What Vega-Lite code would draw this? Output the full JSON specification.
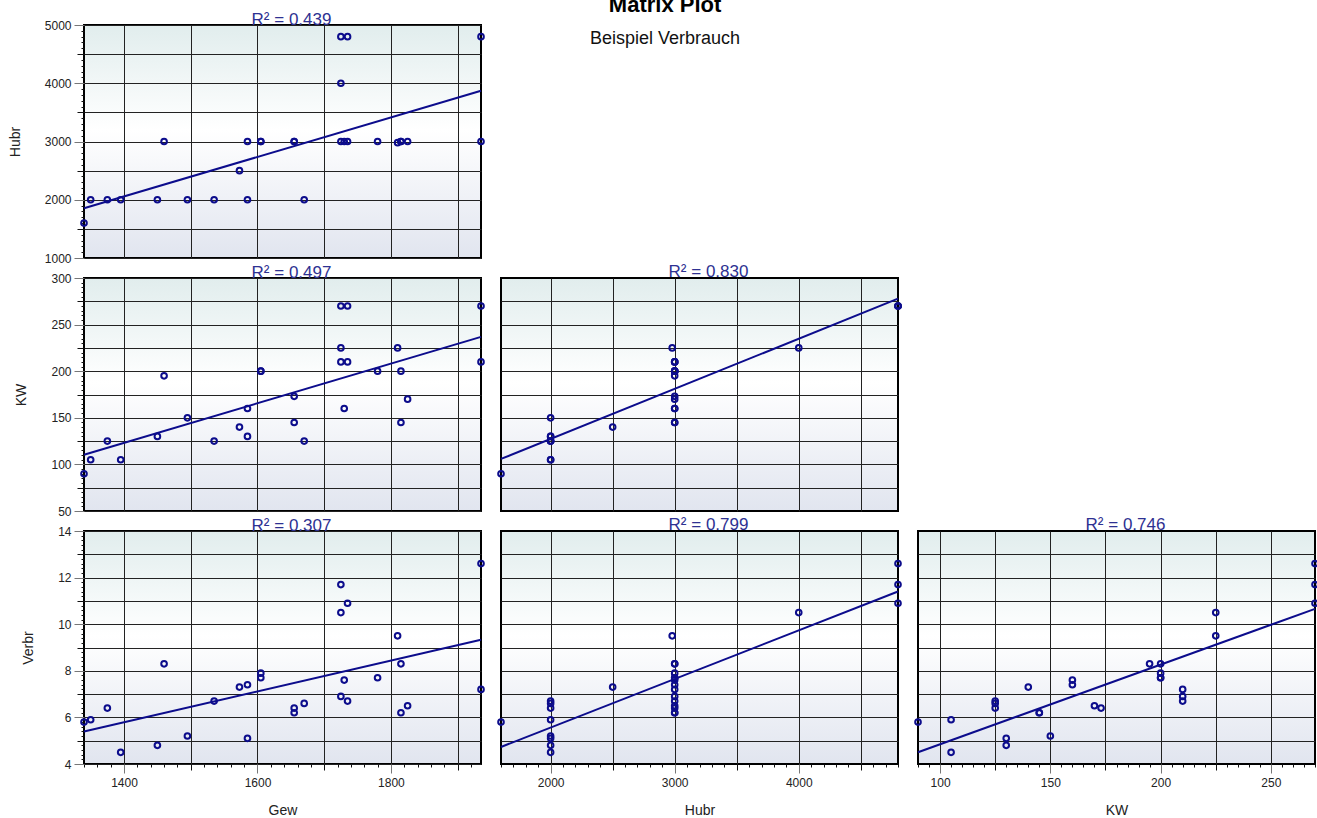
{
  "$schema": "https://vega.github.io/schema/vega-lite/v6.json",
  "background": "white",
  "padding": {"left": 7, "top": -6, "right": 0, "bottom": 0},
  "title": {"text": "Matrix Plot", "subtitle": "Beispiel Verbrauch", "anchor": "middle", "fontSize": 22, "fontWeight": "bold", "subtitleFontSize": 18, "subtitleColor": "#111", "color": "#000", "offset": -39, "font": "Liberation Sans", "subtitleFont": "Liberation Sans", "subtitlePadding": 13},
  "data": {"values": [
    {"Gew": 1340, "Hubr": 1600, "KW": 90, "Verbr": 5.8},
    {"Gew": 1350, "Hubr": 2000, "KW": 105, "Verbr": 5.9},
    {"Gew": 1375, "Hubr": 2000, "KW": 125, "Verbr": 6.4},
    {"Gew": 1395, "Hubr": 2000, "KW": 105, "Verbr": 4.5},
    {"Gew": 1450, "Hubr": 2000, "KW": 130, "Verbr": 4.8},
    {"Gew": 1460, "Hubr": 3000, "KW": 195, "Verbr": 8.3},
    {"Gew": 1495, "Hubr": 2000, "KW": 150, "Verbr": 5.2},
    {"Gew": 1535, "Hubr": 2000, "KW": 125, "Verbr": 6.7},
    {"Gew": 1573, "Hubr": 2500, "KW": 140, "Verbr": 7.3},
    {"Gew": 1585, "Hubr": 3000, "KW": 160, "Verbr": 7.4},
    {"Gew": 1585, "Hubr": 2000, "KW": 130, "Verbr": 5.1},
    {"Gew": 1605, "Hubr": 3000, "KW": 200, "Verbr": 7.9},
    {"Gew": 1605, "Hubr": 3000, "KW": 200, "Verbr": 7.7},
    {"Gew": 1655, "Hubr": 3000, "KW": 173, "Verbr": 6.4},
    {"Gew": 1655, "Hubr": 3000, "KW": 145, "Verbr": 6.2},
    {"Gew": 1670, "Hubr": 2000, "KW": 125, "Verbr": 6.6},
    {"Gew": 1725, "Hubr": 4800, "KW": 270, "Verbr": 11.7},
    {"Gew": 1725, "Hubr": 4000, "KW": 225, "Verbr": 10.5},
    {"Gew": 1725, "Hubr": 3000, "KW": 210, "Verbr": 6.9},
    {"Gew": 1730, "Hubr": 3000, "KW": 160, "Verbr": 7.6},
    {"Gew": 1735, "Hubr": 4800, "KW": 270, "Verbr": 10.9},
    {"Gew": 1735, "Hubr": 3000, "KW": 210, "Verbr": 6.7},
    {"Gew": 1780, "Hubr": 3000, "KW": 200, "Verbr": 7.7},
    {"Gew": 1810, "Hubr": 2980, "KW": 225, "Verbr": 9.5},
    {"Gew": 1815, "Hubr": 3000, "KW": 200, "Verbr": 8.3},
    {"Gew": 1815, "Hubr": 3000, "KW": 145, "Verbr": 6.2},
    {"Gew": 1825, "Hubr": 3000, "KW": 170, "Verbr": 6.5},
    {"Gew": 1935, "Hubr": 4800, "KW": 270, "Verbr": 12.6},
    {"Gew": 1935, "Hubr": 3000, "KW": 210, "Verbr": 7.2}
  ]},
  "config": {
    "font": "Liberation Sans",
    "view": {"stroke": "#000", "strokeWidth": 2, "fill": {"gradient": "linear", "x1": 0, "y1": 0, "x2": 0, "y2": 1, "stops": [{"offset": 0, "color": "#e1eded"}, {"offset": 0.45, "color": "#ffffff"}, {"offset": 1, "color": "#e1e5ef"}]}},
    "axis": {"domain": false, "gridColor": "#222", "gridWidth": 1, "labelFont": "Liberation Sans", "labelFontSize": 12, "labelColor": "#222", "titleFont": "Liberation Sans", "titleFontSize": 14, "titleFontWeight": "normal", "titleColor": "#222", "tickWidth": 1, "format": "d", "labelOverlap": false, "labelFlush": false, "tickCount": 200},
    "title": {"fontSize": 17, "fontWeight": "normal", "color": "#2e3192", "font": "Liberation Sans"}
  },
  "columns": 3,
  "spacing": 20,
  "bounds": "flush",
  "concat": [
    {
      "width": 397, "height": 233,
      "title": {"text": "R²  = 0.439", "frame": "group", "dx": 9, "offset": -10},
      "layer": [
        {"mark": {"type": "point", "filled": false, "color": "#0c0c8c", "strokeWidth": 2, "size": 32, "opacity": 1},
         "encoding": {
           "x": {"field": "Gew", "type": "quantitative", "scale": {"zero": false, "nice": false}, "axis": {"title": null, "tickCount": 200, "values": [1400,1500,1600,1700,1800,1900], "labels": false, "ticks": false, "grid": true}},
           "y": {"field": "Hubr", "type": "quantitative", "scale": {"domain": [1000, 5000], "nice": false}, "axis": {"title": "Hubr", "titlePadding": 22, "tickCount": 200, "values": [1000,1100,1200,1300,1400,1500,1600,1700,1800,1900,2000,2100,2200,2300,2400,2500,2600,2700,2800,2900,3000,3100,3200,3300,3400,3500,3600,3700,3800,3900,4000,4100,4200,4300,4400,4500,4600,4700,4800,4900,5000], "labelExpr": "datum.value % 1000 === 0 ? datum.label : ''", "labelPadding": 3, "tickSize": {"condition": [{"test": "datum.value % 1000 === 0", "value": 10}, {"test": "datum.value % 500 === 0", "value": 7}], "value": 3}, "tickColor": {"condition": {"test": "datum.value % 1000 === 0", "value": "#777"}, "value": "#111"}, "grid": true, "gridOpacity": {"condition": {"test": "datum.value % 500 === 0", "value": 1}, "value": 0}}}
         }},
        {"transform": [{"regression": "Hubr", "on": "Gew"}],
         "mark": {"type": "line", "color": "#0c0c8c", "strokeWidth": 2},
         "encoding": {"x": {"field": "Gew", "type": "quantitative"}, "y": {"field": "Hubr", "type": "quantitative"}}}
      ]
    },
    {"width": 397, "height": 233, "view": {"fill": null, "stroke": null}, "data": {"values": []}, "mark": "point", "encoding": {}},
    {"width": 397, "height": 233, "view": {"fill": null, "stroke": null}, "data": {"values": []}, "mark": "point", "encoding": {}},
    {
      "width": 397, "height": 233,
      "title": {"text": "R²  = 0.497", "frame": "group", "dx": 9, "offset": -10},
      "layer": [
        {"mark": {"type": "point", "filled": false, "color": "#0c0c8c", "strokeWidth": 2, "size": 32, "opacity": 1},
         "encoding": {
           "x": {"field": "Gew", "type": "quantitative", "scale": {"zero": false, "nice": false}, "axis": {"title": null, "tickCount": 200, "values": [1400,1500,1600,1700,1800,1900], "labels": false, "ticks": false, "grid": true}},
           "y": {"field": "KW", "type": "quantitative", "scale": {"domain": [50, 300], "nice": false}, "axis": {"title": "KW", "titlePadding": 22, "tickCount": 200, "values": [50,55,60,65,70,75,80,85,90,95,100,105,110,115,120,125,130,135,140,145,150,155,160,165,170,175,180,185,190,195,200,205,210,215,220,225,230,235,240,245,250,255,260,265,270,275,280,285,290,295,300], "labelExpr": "datum.value % 50 === 0 ? datum.label : ''", "labelPadding": 3, "tickSize": {"condition": [{"test": "datum.value % 50 === 0", "value": 10}, {"test": "datum.value % 25 === 0", "value": 7}], "value": 3}, "tickColor": {"condition": {"test": "datum.value % 50 === 0", "value": "#777"}, "value": "#111"}, "grid": true, "gridOpacity": {"condition": {"test": "datum.value % 25 === 0", "value": 1}, "value": 0}}}
         }},
        {"transform": [{"regression": "KW", "on": "Gew"}],
         "mark": {"type": "line", "color": "#0c0c8c", "strokeWidth": 2},
         "encoding": {"x": {"field": "Gew", "type": "quantitative"}, "y": {"field": "KW", "type": "quantitative"}}}
      ]
    },
    {
      "width": 397, "height": 233,
      "title": {"text": "R²  = 0.830", "frame": "group", "dx": 9, "offset": -3},
      "layer": [
        {"mark": {"type": "point", "filled": false, "color": "#0c0c8c", "strokeWidth": 2, "size": 32, "opacity": 1},
         "encoding": {
           "x": {"field": "Hubr", "type": "quantitative", "scale": {"zero": false, "nice": false}, "axis": {"title": null, "tickCount": 200, "values": [2000,2500,3000,3500,4000,4500], "labels": false, "ticks": false, "grid": true}},
           "y": {"field": "KW", "type": "quantitative", "scale": {"domain": [50, 300], "nice": false}, "axis": {"title": null, "tickCount": 200, "values": [75,100,125,150,175,200,225,250,275], "labels": false, "ticks": false, "grid": true}}
         }},
        {"transform": [{"regression": "KW", "on": "Hubr"}],
         "mark": {"type": "line", "color": "#0c0c8c", "strokeWidth": 2},
         "encoding": {"x": {"field": "Hubr", "type": "quantitative"}, "y": {"field": "KW", "type": "quantitative"}}}
      ]
    },
    {"width": 397, "height": 233, "view": {"fill": null, "stroke": null}, "data": {"values": []}, "mark": "point", "encoding": {}},
    {
      "width": 397, "height": 233,
      "title": {"text": "R²  = 0.307", "frame": "group", "dx": 9, "offset": -10},
      "layer": [
        {"mark": {"type": "point", "filled": false, "color": "#0c0c8c", "strokeWidth": 2, "size": 32, "opacity": 1},
         "encoding": {
           "x": {"field": "Gew", "type": "quantitative", "scale": {"zero": false, "nice": false}, "axis": {"title": "Gew", "titlePadding": 15, "tickCount": 200, "values": [1340,1360,1380,1400,1420,1440,1460,1480,1500,1520,1540,1560,1580,1600,1620,1640,1660,1680,1700,1720,1740,1760,1780,1800,1820,1840,1860,1880,1900,1920], "labelExpr": "datum.value % 200 === 0 ? datum.label : ''", "labelPadding": 4, "tickSize": {"condition": [{"test": "datum.value % 200 === 0", "value": 9}, {"test": "datum.value % 100 === 0", "value": 6}], "value": 3}, "tickColor": {"condition": {"test": "datum.value % 200 === 0", "value": "#777"}, "value": "#111"}, "grid": true, "gridOpacity": {"condition": {"test": "datum.value % 100 === 0", "value": 1}, "value": 0}}},
           "y": {"field": "Verbr", "type": "quantitative", "scale": {"domain": [4, 14], "nice": false}, "axis": {"title": "Verbr", "titlePadding": 22, "tickCount": 200, "values": [4,4.2,4.4,4.6,4.8,5,5.2,5.4,5.6,5.8,6,6.2,6.4,6.6,6.8,7,7.2,7.4,7.6,7.8,8,8.2,8.4,8.6,8.8,9,9.2,9.4,9.6,9.8,10,10.2,10.4,10.6,10.8,11,11.2,11.4,11.6,11.8,12,12.2,12.4,12.6,12.8,13,13.2,13.4,13.6,13.8,14], "labelExpr": "abs(datum.value / 2 - round(datum.value / 2)) < 0.01 ? datum.label : ''", "labelPadding": 3, "tickSize": {"condition": [{"test": "abs(datum.value / 2 - round(datum.value / 2)) < 0.01", "value": 10}, {"test": "abs(datum.value - round(datum.value)) < 0.01", "value": 7}], "value": 3}, "tickColor": {"condition": {"test": "abs(datum.value / 2 - round(datum.value / 2)) < 0.01", "value": "#777"}, "value": "#111"}, "grid": true, "gridOpacity": {"condition": {"test": "abs(datum.value - round(datum.value)) < 0.01", "value": 1}, "value": 0}}}
         }},
        {"transform": [{"regression": "Verbr", "on": "Gew"}],
         "mark": {"type": "line", "color": "#0c0c8c", "strokeWidth": 2},
         "encoding": {"x": {"field": "Gew", "type": "quantitative"}, "y": {"field": "Verbr", "type": "quantitative"}}}
      ]
    },
    {
      "width": 397, "height": 233,
      "title": {"text": "R²  = 0.799", "frame": "group", "dx": 9, "offset": -3},
      "layer": [
        {"mark": {"type": "point", "filled": false, "color": "#0c0c8c", "strokeWidth": 2, "size": 32, "opacity": 1},
         "encoding": {
           "x": {"field": "Hubr", "type": "quantitative", "scale": {"zero": false, "nice": false}, "axis": {"title": "Hubr", "titlePadding": 15, "tickCount": 200, "values": [1600,1700,1800,1900,2000,2100,2200,2300,2400,2500,2600,2700,2800,2900,3000,3100,3200,3300,3400,3500,3600,3700,3800,3900,4000,4100,4200,4300,4400,4500,4600,4700,4800], "labelExpr": "datum.value % 1000 === 0 ? datum.label : ''", "labelPadding": 4, "tickSize": {"condition": [{"test": "datum.value % 1000 === 0", "value": 9}, {"test": "datum.value % 500 === 0", "value": 6}], "value": 3}, "tickColor": {"condition": {"test": "datum.value % 1000 === 0", "value": "#777"}, "value": "#111"}, "grid": true, "gridOpacity": {"condition": {"test": "datum.value % 500 === 0", "value": 1}, "value": 0}}},
           "y": {"field": "Verbr", "type": "quantitative", "scale": {"domain": [4, 14], "nice": false}, "axis": {"title": null, "tickCount": 200, "values": [5,6,7,8,9,10,11,12,13], "labels": false, "ticks": false, "grid": true}}
         }},
        {"transform": [{"regression": "Verbr", "on": "Hubr"}],
         "mark": {"type": "line", "color": "#0c0c8c", "strokeWidth": 2},
         "encoding": {"x": {"field": "Hubr", "type": "quantitative"}, "y": {"field": "Verbr", "type": "quantitative"}}}
      ]
    },
    {
      "width": 397, "height": 233,
      "title": {"text": "R²  = 0.746", "frame": "group", "dx": 9, "offset": -3},
      "layer": [
        {"mark": {"type": "point", "filled": false, "color": "#0c0c8c", "strokeWidth": 2, "size": 32, "opacity": 1},
         "encoding": {
           "x": {"field": "KW", "type": "quantitative", "scale": {"zero": false, "nice": false}, "axis": {"title": "KW", "titlePadding": 15, "tickCount": 200, "values": [90,95,100,105,110,115,120,125,130,135,140,145,150,155,160,165,170,175,180,185,190,195,200,205,210,215,220,225,230,235,240,245,250,255,260,265,270], "labelExpr": "datum.value % 50 === 0 ? datum.label : ''", "labelPadding": 4, "tickSize": {"condition": [{"test": "datum.value % 50 === 0", "value": 9}, {"test": "datum.value % 25 === 0", "value": 6}], "value": 3}, "tickColor": {"condition": {"test": "datum.value % 50 === 0", "value": "#777"}, "value": "#111"}, "grid": true, "gridOpacity": {"condition": {"test": "datum.value % 25 === 0", "value": 1}, "value": 0}}},
           "y": {"field": "Verbr", "type": "quantitative", "scale": {"domain": [4, 14], "nice": false}, "axis": {"title": null, "tickCount": 200, "values": [5,6,7,8,9,10,11,12,13], "labels": false, "ticks": false, "grid": true}}
         }},
        {"transform": [{"regression": "Verbr", "on": "KW"}],
         "mark": {"type": "line", "color": "#0c0c8c", "strokeWidth": 2},
         "encoding": {"x": {"field": "KW", "type": "quantitative"}, "y": {"field": "Verbr", "type": "quantitative"}}}
      ]
    }
  ]
}
